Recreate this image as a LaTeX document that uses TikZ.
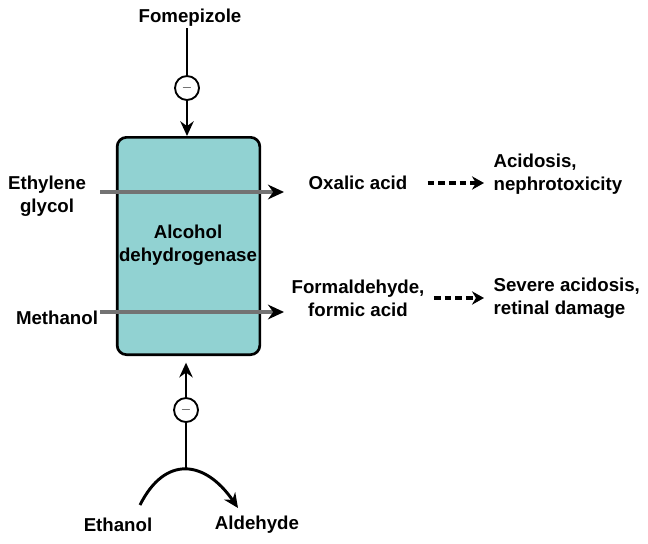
\documentclass[tikz,border=0pt]{standalone}
\usepackage{fontspec}
\setmainfont{Liberation Sans}
\usepackage{tikz}
\usetikzlibrary{arrows.meta}
\definecolor{adhteal}{RGB}{145,210,210}

\begin{document}
\begin{tikzpicture}[x=0.75pt, y=-0.75pt,
  txt/.style={font=\bfseries\fontsize{14}{17}\selectfont, inner sep=1pt},
  inhib/.style={draw, circle, line width=1.4pt, minimum size=18pt, inner sep=0pt, fill=white, font=\bfseries},
  flow/.style={draw=black!55, line width=3pt, -{Stealth[length=12pt,width=11pt,black]}},
  leads/.style={line width=2.4pt, dash pattern=on 5pt off 3pt, -{Stealth[length=9pt,width=10pt]}}]
  \useasboundingbox (0,0) rectangle (648,543);

  % enzyme box
  \node[draw, line width=2pt, fill=adhteal, rounded corners=7pt, minimum width=107pt, minimum height=163pt] (adh) at (188.5,246) {};
  \node[txt, align=center] (adhname) at (188,245) {Alcohol\\dehydrogenase};

  % inhibitor
  \node[txt] (fomep) at (190,18) {Fomepizole};
  \node[inhib] (minusA) at (187,88) {$-$};
  \draw[line width=2pt] (fomep.south -| minusA) -- (minusA);
  \draw[line width=2pt, -{Stealth[length=11pt,width=10pt]}] (minusA) -- (adh.north -| minusA);

  % substrates
  \node[txt, align=center] (ethgly) at (47,196) {Ethylene\\glycol};
  \node[txt] (methanol) at (57,318) {Methanol};
  \coordinate (eg0) at (100,192);
  \coordinate (eg1) at (284,192);
  \coordinate (me0) at (100,312);
  \coordinate (me1) at (284,312);
  \draw[flow] (eg0) -- (eg1);
  \draw[flow] (me0) -- (me1);

  % products
  \node[txt] (oxalic) at (358,183) {Oxalic acid};
  \node[txt, align=center] (formal) at (358,298) {Formaldehyde,\\formic acid};
  \node[txt, align=left, anchor=west] (acidA) at (492,174) {Acidosis,\\nephrotoxicity};
  \node[txt, align=left, anchor=west] (acidB) at (492,298) {Severe acidosis,\\retinal damage};
  \draw[leads] (oxalic.east) ++(14pt,0) coordinate (dA) -- ([xshift=-6pt]acidA.west |- dA);
  \draw[leads] (formal.east) ++(6pt,0) coordinate (dB) -- ([xshift=-6pt]acidB.west |- dB);

  % ethanol competes
  \node[txt] (ethanol) at (118,525) {Ethanol};
  \node[txt] (aldeh) at (257,525) {Aldehyde};
  \coordinate (arcA) at (140,505);
  \coordinate (arcB) at (238,508);
  \coordinate (arctop) at (186,468);
  \draw[line width=2.2pt, -{Stealth[length=11pt,width=10pt]}] (arcA) .. controls (165,455) and (205,460) .. (arcB);
  \node[inhib] (minusB) at (186,410) {$-$};
  \draw[line width=2pt] (arctop) -- (minusB);
  \draw[line width=2pt, -{Stealth[length=11pt,width=10pt]}] (minusB) -- ([yshift=-5pt]adh.south -| minusB);
\end{tikzpicture}
\end{document}
